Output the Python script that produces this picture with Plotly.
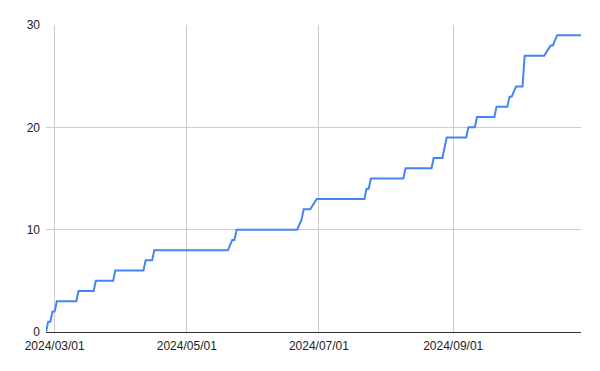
import plotly.graph_objects as go

dates = ["2024-02-26", "2024-02-27", "2024-02-28", "2024-02-29", "2024-03-01", "2024-03-02",
         "2024-03-11", "2024-03-12", "2024-03-19", "2024-03-20", "2024-03-28", "2024-03-29",
         "2024-04-11", "2024-04-12", "2024-04-15", "2024-04-16", "2024-05-20", "2024-05-22",
         "2024-05-23", "2024-05-24", "2024-06-21", "2024-06-23", "2024-06-24", "2024-06-27",
         "2024-06-30", "2024-07-22", "2024-07-23", "2024-07-24", "2024-07-25", "2024-08-09",
         "2024-08-10", "2024-08-22", "2024-08-23", "2024-08-27", "2024-08-28", "2024-08-29",
         "2024-09-07", "2024-09-08", "2024-09-11", "2024-09-12", "2024-09-20", "2024-09-21",
         "2024-09-26", "2024-09-27", "2024-09-28", "2024-09-30", "2024-10-03", "2024-10-04",
         "2024-10-13", "2024-10-16", "2024-10-17", "2024-10-19", "2024-10-30"]
counts = [0, 1, 1, 2, 2, 3,
          3, 4, 4, 5, 5, 6,
          6, 7, 7, 8, 8, 9,
          9, 10, 10, 11, 12, 12,
          13, 13, 14, 14, 15, 15,
          16, 16, 17, 17, 18, 19,
          19, 20, 20, 21, 21, 22,
          22, 23, 23, 24, 24, 27,
          27, 28, 28, 29, 29]

fig = go.Figure(go.Scatter(x=dates, y=counts, mode="lines",
                           line=dict(color="#4285F4", width=2), hoverinfo="skip"))

fig.update_layout(
    width=600, height=371,
    margin=dict(l=46, r=19, t=25, b=39),
    paper_bgcolor="white", plot_bgcolor="white",
    showlegend=False,
    font=dict(family="Liberation Sans, Arial, sans-serif", size=12, color="#222222"),
)
fig.update_xaxes(
    type="date", range=[dates[0], dates[-1]],
    tick0="2024-03-01", dtick="M2", tickformat="%Y/%m/%d",
    showgrid=True, gridcolor="#cccccc", gridwidth=1,
    showline=True, linecolor="#333333", linewidth=1,
    ticks="", zeroline=False, ticklabelstandoff=3,
)
fig.update_yaxes(
    range=[0, 30], dtick=10,
    showgrid=True, gridcolor="#cccccc", gridwidth=1,
    showline=False, zeroline=False, ticks="", ticklabelstandoff=5,
)

fig.write_html("out.html")
